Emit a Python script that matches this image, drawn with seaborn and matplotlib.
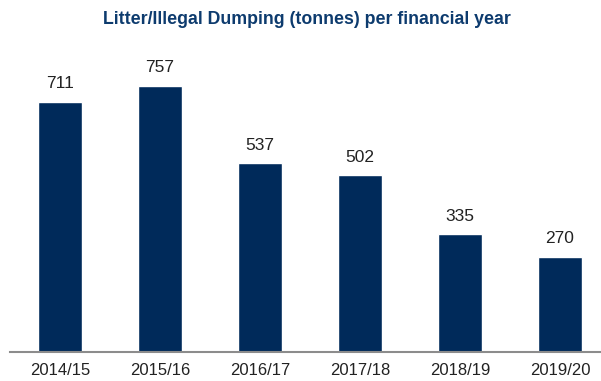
import matplotlib
matplotlib.use("Agg")
import matplotlib.pyplot as plt
import seaborn as sns
import pandas as pd

years = ["2014/15", "2015/16", "2016/17", "2017/18", "2018/19", "2019/20"]
tonnes = [711, 757, 537, 502, 335, 270]

sns.set_theme(style="white")
plt.rcParams["font.family"] = ["Liberation Sans", "DejaVu Sans"]

df = pd.DataFrame({"year": years, "tonnes": tonnes})

fig = plt.figure(figsize=(6.01, 3.81), dpi=100)
# axes spans from the baseline (y=352px) upward; x range so categories sit 100px apart
ax = fig.add_axes([10 / 601, (381 - 352) / 381, 600 / 601, 312 / 381])
sns.barplot(data=df, x="year", y="tonnes", color="#002a5a", width=0.44,
            saturation=1, ax=ax)

ax.set_xlim(-0.5, 5.5)
ax.set_ylim(0, 887)
ax.set_xlabel("")
ax.set_ylabel("")
ax.set_yticks([])
for s in ["top", "right", "left"]:
    ax.spines[s].set_visible(False)
ax.spines["bottom"].set_color("#8c8c8c")
ax.spines["bottom"].set_linewidth(1.5)
ax.tick_params(axis="x", length=0, labelsize=12, colors="#222222", pad=8)

for i, v in enumerate(tonnes):
    ax.text(i, v + 30, f"{v}", ha="center", va="bottom", fontsize=12.5,
            color="#222222")

fig.text(307 / 601, 1 - 20 / 381, "Litter/Illegal Dumping (tonnes) per financial year",
         ha="center", va="center", fontsize=12.8, fontweight="bold",
         color="#0d3b6e")

fig.savefig("out.png", dpi=100)
